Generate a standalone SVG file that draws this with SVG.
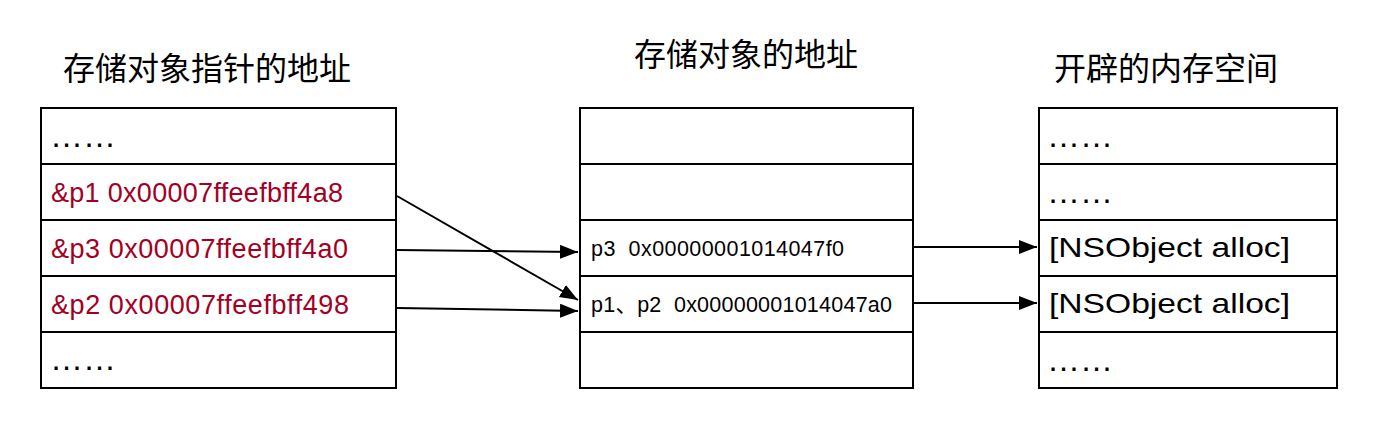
<svg xmlns="http://www.w3.org/2000/svg" width="1388" height="434" viewBox="0 0 1388 434">
<style>
.box{fill:#ffffff;stroke:#000;stroke-width:2}
.sep{stroke:#000;stroke-width:2}
.title{font-family:"Liberation Sans","Noto Sans CJK SC",sans-serif;font-size:32px;fill:#000;text-anchor:middle}
.red{font-family:"Liberation Sans","Noto Sans CJK SC",sans-serif;font-size:27px;fill:#a20025}
.mid{font-family:"Liberation Sans","Noto Sans CJK SC",sans-serif;font-size:21.5px;fill:#000;white-space:pre}
.obj{font-family:"Liberation Sans","Noto Sans CJK SC",sans-serif;font-size:28.5px;fill:#000}
.dots{font-family:"Liberation Sans",sans-serif;font-size:33px;fill:#000}
.conn{stroke:#000;stroke-width:2;fill:none}
</style>
<defs>
<marker id="arr" markerUnits="userSpaceOnUse" markerWidth="20" markerHeight="16" refX="18" refY="7" orient="auto">
<path d="M0,0 L18,7 L0,14 Z" fill="#000"/>
</marker>
</defs>
<rect width="1388" height="434" fill="#ffffff"/>

<g id="title-left"><text class="title" x="207" y="80">存储对象指针的地址</text></g>
<g id="title-mid"><text class="title" x="746" y="66">存储对象的地址</text></g>
<g id="title-right"><text class="title" x="1166" y="80">开辟的内存空间</text></g>

<g id="left-stack">
<rect class="box" x="41" y="108" width="355" height="280"/>
<line class="sep" x1="41" y1="164" x2="396" y2="164"/>
<line class="sep" x1="41" y1="220" x2="396" y2="220"/>
<line class="sep" x1="41" y1="276" x2="396" y2="276"/>
<line class="sep" x1="41" y1="332" x2="396" y2="332"/>
<text class="dots" x="50" y="147">……</text>
<text class="red" x="51" y="202" textLength="292" lengthAdjust="spacing">&amp;p1 0x00007ffeefbff4a8</text>
<text class="red" x="51" y="258" textLength="297" lengthAdjust="spacing">&amp;p3 0x00007ffeefbff4a0</text>
<text class="red" x="51" y="314" textLength="298" lengthAdjust="spacing">&amp;p2 0x00007ffeefbff498</text>
<text class="dots" x="50" y="370">……</text>
</g>

<g id="mid-stack">
<rect class="box" x="580" y="108" width="333" height="280"/>
<line class="sep" x1="580" y1="164" x2="913" y2="164"/>
<line class="sep" x1="580" y1="220" x2="913" y2="220"/>
<line class="sep" x1="580" y1="276" x2="913" y2="276"/>
<line class="sep" x1="580" y1="332" x2="913" y2="332"/>
<text class="mid" x="591" y="256" xml:space="preserve" textLength="253" lengthAdjust="spacing">p3  0x00000001014047f0</text>
<text class="mid" x="591" y="312" xml:space="preserve" textLength="301" lengthAdjust="spacing">p1、p2  0x00000001014047a0</text>
</g>

<g id="right-stack">
<rect class="box" x="1039" y="108" width="298" height="280"/>
<line class="sep" x1="1039" y1="164" x2="1337" y2="164"/>
<line class="sep" x1="1039" y1="220" x2="1337" y2="220"/>
<line class="sep" x1="1039" y1="276" x2="1337" y2="276"/>
<line class="sep" x1="1039" y1="332" x2="1337" y2="332"/>
<text class="dots" x="1047" y="147">……</text>
<text class="dots" x="1047" y="203">……</text>
<text class="obj" x="1049" y="257" textLength="241" lengthAdjust="spacingAndGlyphs">[NSObject alloc]</text>
<text class="obj" x="1049" y="313" textLength="241" lengthAdjust="spacingAndGlyphs">[NSObject alloc]</text>
<text class="dots" x="1047" y="371">……</text>
</g>

<g id="connectors">
<path class="conn" d="M397,196 L578,300" marker-end="url(#arr)"/>
<path class="conn" d="M397,250 L578,252" marker-end="url(#arr)"/>
<path class="conn" d="M397,308 L578,311" marker-end="url(#arr)"/>
<path class="conn" d="M914,247 L1037,247" marker-end="url(#arr)"/>
<path class="conn" d="M914,303 L1037,303" marker-end="url(#arr)"/>
</g>
</svg>
